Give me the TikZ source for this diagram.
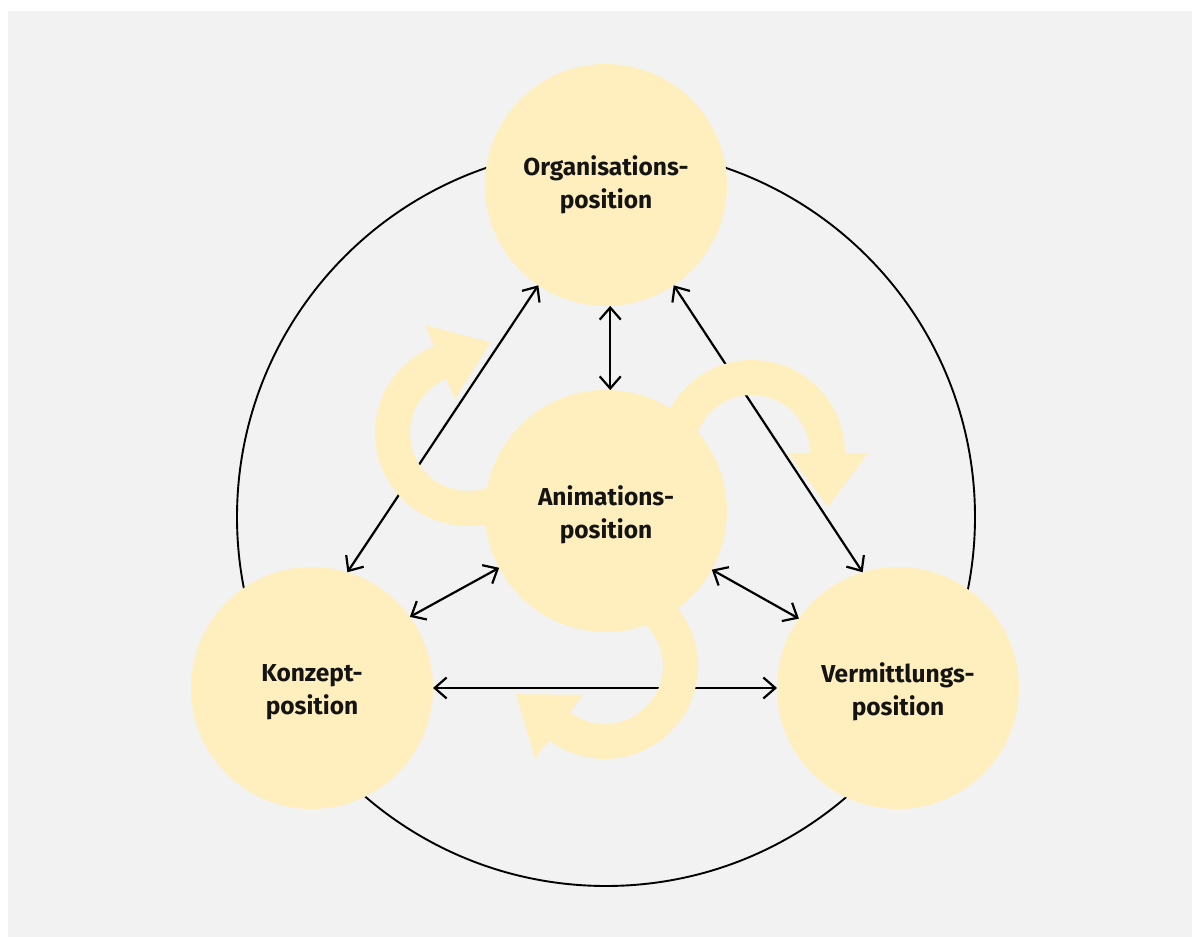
\documentclass[tikz,border=0pt]{standalone}
\usepackage{fontspec}
\setmainfont{Fira Sans}
\usetikzlibrary{arrows.meta,calc}
\definecolor{bggray}{HTML}{F2F2F2}
\definecolor{pale}{HTML}{FFEFBF}
\newcommand\curlarrow[4]{%
  \pgfmathsetmacro\tipx{#1+76*cos(#4)+54*cos(#4-90)}%
  \pgfmathsetmacro\tipy{#2+76*sin(#4)+54*sin(#4-90)}%
  \fill[pale] ($(#1,#2)+(#3:93)$) arc[start angle=#3,end angle=#4,radius=93]
    -- ($(#1,#2)+(#4:116)$) -- (\tipx,\tipy) -- ($(#1,#2)+(#4:36)$)
    -- ($(#1,#2)+(#4:58)$) arc[start angle=#4,end angle=#3,radius=58] -- cycle;%
}
\begin{document}
\begin{tikzpicture}[x=1pt,y=1pt,
  posc/.style={circle, fill=pale, minimum size=242pt, inner sep=0pt, outer sep=0pt},
  lbl/.style={align=center, font=\bfseries\fontsize{24.5}{33}\selectfont, text=black!92, inner sep=0pt},
  conn/.style={{Straight Barb[length=12pt,width=21pt]}-{Straight Barb[length=12pt,width=21pt]}, line width=2.2pt},
  outerring/.style={circle, draw=black, line width=1.9pt, minimum size=738pt, inner sep=0pt}]
\useasboundingbox (0,0) rectangle (1192,937);
\fill[bggray] (8,0) rectangle (1192,926);
\node[outerring] (outer) at (606,420) {};
\node[posc] (org) at (606,752) {};
\node[posc] (anim) at (606,426) {};
\node[posc] (konz) at (312,249) {};
\node[posc] (verm) at (898,249) {};
\draw[conn] (konz.73) -- (org.236);
\draw[conn] (org.304) -- (verm.107);
\draw[conn] (org.272) -- (anim.88);
\draw[conn] (konz.36) -- (anim.208);
\draw[conn] (anim.331) -- (verm.145);
\draw[conn] (konz.east) -- (verm.west);
\curlarrow{468}{504}{295}{111.5}
\curlarrow{752}{484}{220}{0}
\curlarrow{605}{271}{70}{-127}
\node[lbl] (orgt) at (org) {Organisations-\\position};
\node[lbl, yshift=-4pt] (animt) at (anim) {Animations-\\position};
\node[lbl, yshift=-4pt] (konzt) at (konz) {Konzept-\\position};
\node[lbl, yshift=-4pt] (vermt) at (verm) {Vermittlungs-\\position};
\end{tikzpicture}
\end{document}
